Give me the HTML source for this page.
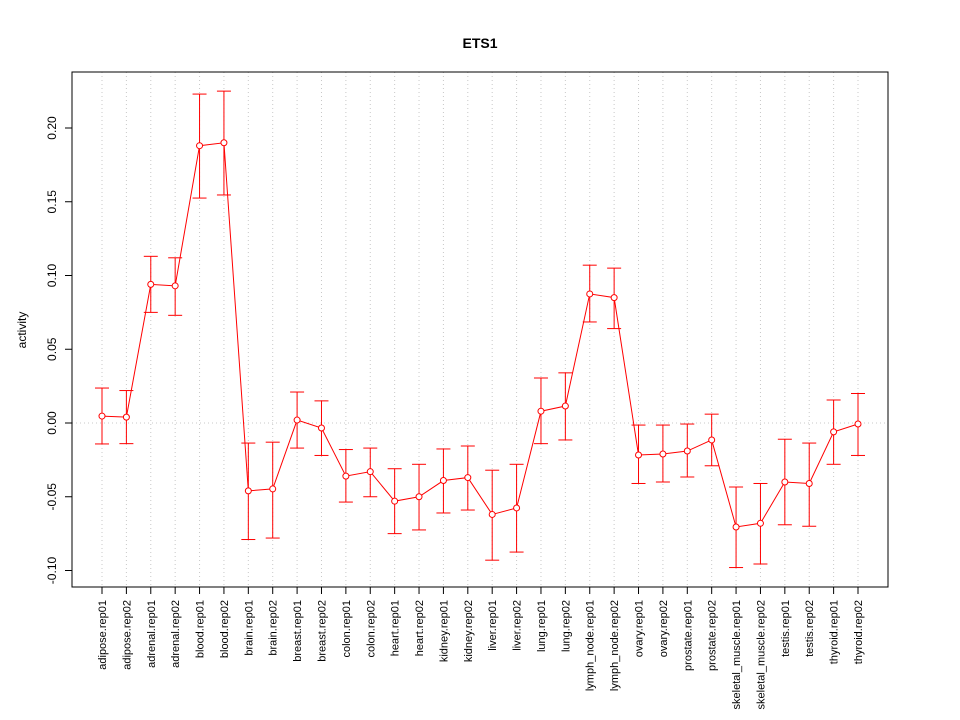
<!DOCTYPE html>
<html><head><meta charset="utf-8"><style>body{margin:0;background:#fff}svg{display:block}</style></head>
<body>
<svg id="chart" width="960" height="720" xmlns="http://www.w3.org/2000/svg" font-family="Liberation Sans, sans-serif"></svg>
<script>
const categories=["adipose.rep01","adipose.rep02","adrenal.rep01","adrenal.rep02","blood.rep01","blood.rep02","brain.rep01","brain.rep02","breast.rep01","breast.rep02","colon.rep01","colon.rep02","heart.rep01","heart.rep02","kidney.rep01","kidney.rep02","liver.rep01","liver.rep02","lung.rep01","lung.rep02","lymph_node.rep01","lymph_node.rep02","ovary.rep01","ovary.rep02","prostate.rep01","prostate.rep02","skeletal_muscle.rep01","skeletal_muscle.rep02","testis.rep01","testis.rep02","thyroid.rep01","thyroid.rep02"];
const activity=[0.0047,0.004,0.094,0.093,0.188,0.19,-0.046,-0.0447,0.002,-0.0034,-0.036,-0.033,-0.053,-0.050,-0.039,-0.037,-0.062,-0.0576,0.008,0.0115,0.0875,0.085,-0.0217,-0.021,-0.019,-0.0115,-0.0705,-0.068,-0.040,-0.041,-0.006,-0.0007];
const upper=[0.0237,0.022,0.113,0.112,0.223,0.225,-0.0136,-0.013,0.021,0.015,-0.018,-0.017,-0.031,-0.028,-0.0176,-0.0156,-0.032,-0.028,0.0305,0.034,0.107,0.105,-0.0014,-0.0014,-0.0007,0.006,-0.0434,-0.041,-0.011,-0.0136,0.0156,0.020];
const lower=[-0.0142,-0.014,0.075,0.073,0.1525,0.1546,-0.079,-0.078,-0.017,-0.022,-0.0536,-0.050,-0.075,-0.0725,-0.061,-0.059,-0.093,-0.0875,-0.014,-0.0115,0.0685,0.064,-0.041,-0.040,-0.0366,-0.029,-0.098,-0.0956,-0.069,-0.070,-0.028,-0.022];
const yTicks=[-0.10,-0.05,0.00,0.05,0.10,0.15,0.20];
const yTickLabels=["-0.10","-0.05","0.00","0.05","0.10","0.15","0.20"];

const svg=document.getElementById('chart');
const NS='http://www.w3.org/2000/svg';
const L=72,R=888,T=72,B=587;
const y=v=>423-v*1475;
const x=i=>102+i*(858-102)/(categories.length-1);
function mk(tag,attrs,parent){const e=document.createElementNS(NS,tag);for(const k in attrs)e.setAttribute(k,attrs[k]);(parent||svg).appendChild(e);return e;}

let t=mk('text',{x:480,y:48,'text-anchor':'middle','font-size':14,'font-weight':'bold'});t.textContent='ETS1';



// grid
categories.forEach((c,i)=>{const g=mk('line',{x1:x(i),x2:x(i),y1:T,y2:B,stroke:'#c8c8c8','stroke-dasharray':'1,3'});

});
let h=mk('line',{x1:L,x2:R,y1:y(0),y2:y(0),stroke:'#c8c8c8','stroke-dasharray':'1,3'});



let box=mk('rect',{x:L,y:T,width:R-L,height:B-T,fill:'none',stroke:'#000'});



// y axis
yTicks.forEach((v,i)=>{mk('line',{x1:L-7,x2:L,y1:y(v),y2:y(v),stroke:'#000'});
const lb=mk('text',{x:56,y:y(v),'font-size':12,'text-anchor':'middle',transform:`rotate(-90 56 ${y(v)})`});lb.textContent=yTickLabels[i];

});
let yl=mk('text',{x:26,y:330,'font-size':12,'text-anchor':'middle',transform:'rotate(-90 26 330)'});yl.textContent='activity';



// x axis
categories.forEach((c,i)=>{mk('line',{x1:x(i),x2:x(i),y1:B,y2:B+7,stroke:'#000'});
const lb=mk('text',{x:x(i)+4,y:600,'font-size':11,'text-anchor':'end',transform:`rotate(-90 ${x(i)+4} 600)`});lb.textContent=c;

});

// series
const red='#ff0000';
let pts=activity.map((v,i)=>x(i)+','+y(v)).join(' ');
let pl=mk('polyline',{points:pts,fill:'none',stroke:red,'stroke-width':1});


activity.forEach((v,i)=>{
 const g=mk('g',{});
 
 
 mk('line',{x1:x(i),x2:x(i),y1:y(upper[i]),y2:y(lower[i]),stroke:red},g);
 mk('line',{x1:x(i)-7,x2:x(i)+7,y1:y(upper[i]),y2:y(upper[i]),stroke:red},g);
 mk('line',{x1:x(i)-7,x2:x(i)+7,y1:y(lower[i]),y2:y(lower[i]),stroke:red},g);
 const c=mk('circle',{cx:x(i),cy:y(v),r:3,fill:'#fff',stroke:red});
 
 
});
</script>
</body></html>
